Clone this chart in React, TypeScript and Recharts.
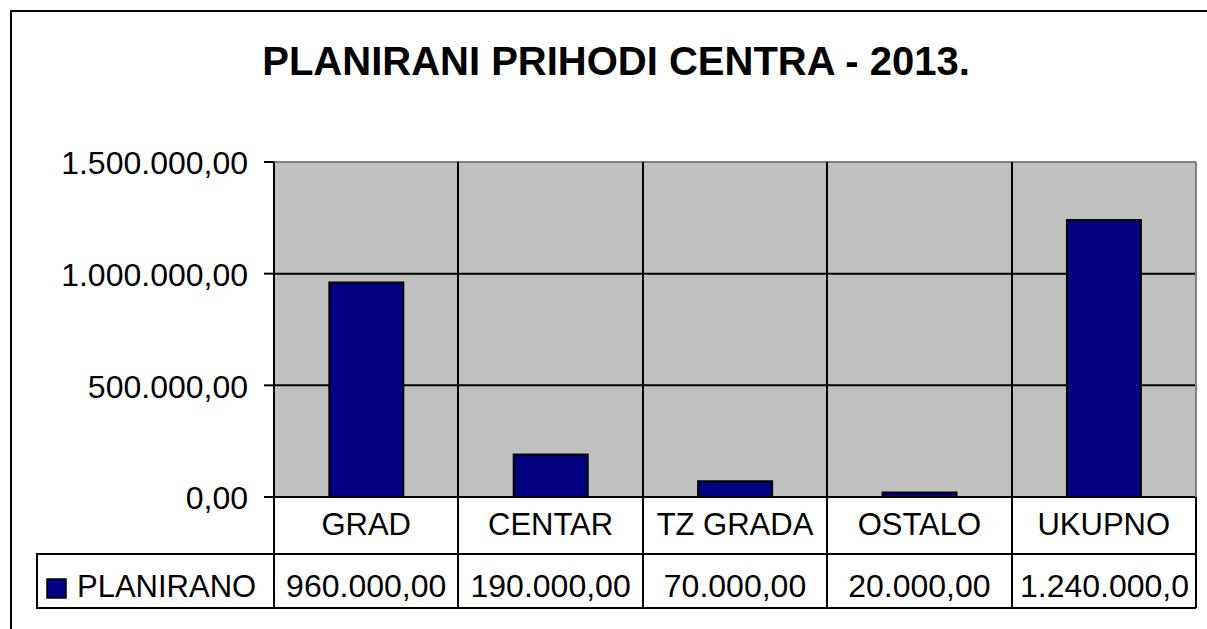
import React from 'react';
import { BarChart, Bar, XAxis, YAxis, CartesianGrid, ReferenceLine } from 'recharts';

// ---- data ----
const title = 'PLANIRANI PRIHODI CENTRA - 2013.';
const seriesName = 'PLANIRANO';
const categories = ['GRAD', 'CENTAR', 'TZ GRADA', 'OSTALO', 'UKUPNO'];
const planirano = [960000, 190000, 70000, 20000, 1240000];
const yTicks = [0, 500000, 1000000, 1500000];

const data = categories.map((c, i) => ({ name: c, value: planirano[i] }));

// ---- layout / style ----
const W = 1207;
const H = 629;
const FONT = '"Liberation Sans", Arial, sans-serif';
const M_TOP = 162;
const M_RIGHT = 11;
const M_BOTTOM = 20;
const Y_W = 274;
const X_H = 112;
const PLOT_TOP = M_TOP;
const PLOT_W = W - Y_W - M_RIGHT;
const ROW1 = 57;
const ROW2 = 54;
const LEGEND_LEFT = 37;
const NAVY = '#000080';
const GRID_BG = '#C0C0C0';

const fmt = (v: number) => {
  const [intPart, dec] = v.toFixed(2).split('.');
  return intPart.replace(/\B(?=(\d{3})+(?!\d))/g, '.') + ',' + dec;
};

const estWidth = (s: string, fs: number) => {
  let w = 0;
  for (const ch of s) w += /[0-9]/.test(ch) ? 0.556 : 0.278;
  return w * fs;
};

// Excel-like: drop whole characters that do not fit in the cell
const fitText = (s: string, fs: number, avail: number) => {
  let t = s;
  while (t.length > 1 && estWidth(t, fs) > avail) t = t.slice(0, -1);
  return t;
};

const TableTick = (props: any) => {
  const { x, y, payload, index } = props;
  const half = payload && payload.offset ? payload.offset : PLOT_W / categories.length / 2;
  const left = Math.round(x - half);
  const right = Math.round(x + half);
  const yy = Math.round(y);
  const r1 = yy + ROW1;
  const r2 = r1 + ROW2;
  const last = index === categories.length - 1;
  const full = fmt(planirano[index]);
  const vfs = 32;
  const tooWide = estWidth(full, vfs) > right - left - 10;
  const valText = tooWide ? fitText(full, vfs, right - left - 12) : full;
  const clipId = `cellclip-${index}`;
  return (
    <g fontFamily={FONT}>
      <defs>
        <clipPath id={clipId}>
          <rect x={left + 1} y={r1} width={right - left - 2} height={ROW2} />
        </clipPath>
      </defs>
      <line x1={left} y1={PLOT_TOP} x2={left} y2={r2} stroke="#000" strokeWidth={2} />
      {last && <line x1={right} y1={PLOT_TOP} x2={right} y2={yy} stroke="#808080" strokeWidth={2} />}
      {last && <line x1={right} y1={yy} x2={right} y2={r2} stroke="#000" strokeWidth={2} />}
      <line x1={left} y1={r1} x2={right} y2={r1} stroke="#000" strokeWidth={2} />
      <line x1={left} y1={r2} x2={right} y2={r2} stroke="#000" strokeWidth={2} />
      <text x={x} y={yy + 38} textAnchor="middle" fontSize={31} fill="#000">
        {payload.value}
      </text>
      <g clipPath={`url(#${clipId})`}>
        <text
          x={tooWide ? left + 8 : x}
          y={r1 + 43}
          textAnchor={tooWide ? 'start' : 'middle'}
          fontSize={vfs}
          fill="#000"
        >
          {valText}
        </text>
      </g>
      {index === 0 && (
        <g>
          <rect x={LEGEND_LEFT} y={r1} width={left - LEGEND_LEFT} height={ROW2} fill="#fff" stroke="#000" strokeWidth={2} />
          <rect x={47} y={r1 + 25} width={19} height={19} fill={NAVY} stroke="#000" strokeWidth={1.5} />
          <text x={77} y={r1 + 43} fontSize={31} fill="#000">
            {seriesName}
          </text>
        </g>
      )}
    </g>
  );
};

export default function App() {
  return (
    <div style={{ position: 'fixed', left: 0, top: 0, width: W, height: H, overflow: 'hidden', background: '#fff' }}>
      <svg width={W} height={H} style={{ position: 'absolute', left: 0, top: 0 }}>
        <rect x={11} y={11} width={1230} height={700} fill="#fff" stroke="#000" strokeWidth={2} />
        <text x={616} y={75} textAnchor="middle" fontFamily={FONT} fontWeight="bold" fontSize={40} fill="#000">
          {title}
        </text>
      </svg>
      <div style={{ position: 'absolute', left: 0, top: 0 }}>
        <BarChart
          width={W}
          height={H}
          data={data}
          margin={{ top: M_TOP, right: M_RIGHT, bottom: M_BOTTOM, left: 0 }}
          barCategoryGap="30%"
        >
          <CartesianGrid
            vertical={false}
            fill={GRID_BG}
            fillOpacity={1}
            stroke="#000"
            strokeWidth={2}
            horizontal={{ stroke: '#000', strokeWidth: 2 }}
          />
          <XAxis
            dataKey="name"
            height={X_H}
            interval={0}
            tickLine={false}
            tickSize={0}
            tickMargin={0}
            axisLine={{ stroke: '#000', strokeWidth: 2 }}
            tick={<TableTick />}
          />
          <YAxis
            width={Y_W}
            domain={[0, 1500000]}
            ticks={yTicks}
            tickFormatter={fmt}
            tickSize={10}
            tickMargin={16}
            axisLine={{ stroke: '#000', strokeWidth: 2 }}
            tickLine={{ stroke: '#000', strokeWidth: 2 }}
            tick={{ fontSize: 32, fill: '#000', fontFamily: FONT, dy: 1 }}
          />
          <ReferenceLine y={1500000} stroke="#808080" strokeWidth={2} />
          <Bar dataKey="value" name={seriesName} fill={NAVY} stroke="#000" strokeWidth={2} isAnimationActive={false} />
        </BarChart>
      </div>
    </div>
  );
}
